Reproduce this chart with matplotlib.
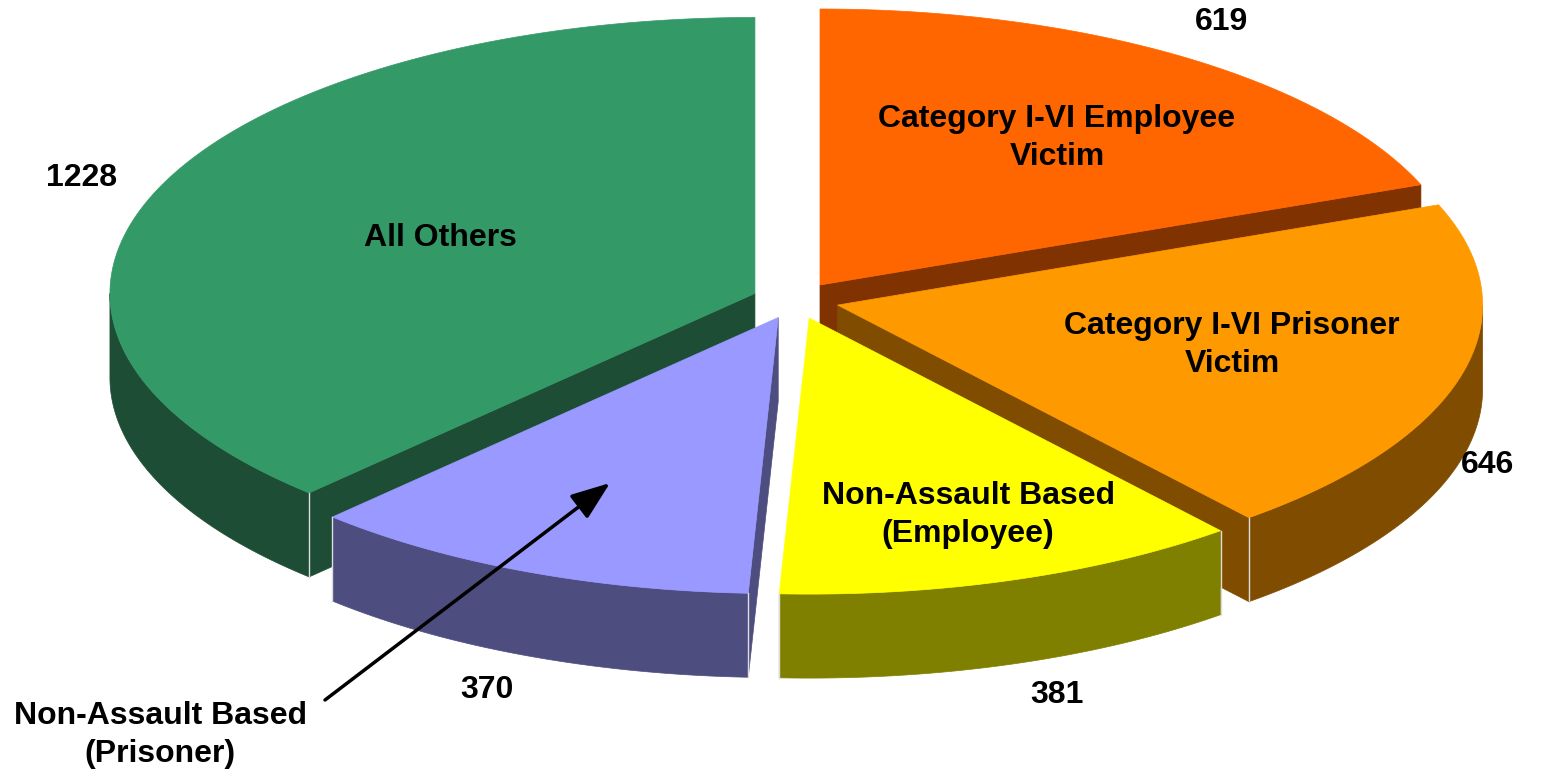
import numpy as np
import matplotlib
matplotlib.use('Agg')
from matplotlib import pyplot as plt
from matplotlib.patches import Polygon

# data, clockwise from 12 o'clock
categories = ['Category I-VI Employee\nVictim', 'Category I-VI Prisoner\nVictim',
              'Non-Assault Based\n(Employee)', 'Non-Assault Based\n(Prisoner)', 'All Others']
values = [619, 646, 381, 370, 1228]
top_colors = ['#FF6600', '#FF9900', '#FFFF00', '#9999FF', '#339966']
side_colors = ['#803300', '#804D00', '#808000', '#4D4D80', '#1E4D36']

# geometry of the projected pie (pixel units)
cx, cy = 795.4, 300.4
a, b = 645, 276
depth = 84
explode = 0.0676

plt.rcParams['font.family'] = ['Liberation Sans', 'DejaVu Sans']

fig = plt.figure(figsize=(15.51, 7.73), dpi=100)
ax = fig.add_axes([0, 0, 1, 1])
ax.set_xlim(0, 1551)
ax.set_ylim(773, 0)
ax.axis('off')


def pt(theta, r, ox, oy, z=0):
    t = np.radians(theta)
    return (cx + a * (r * np.cos(t) + ox), cy - b * (r * np.sin(t) + oy) + z)


def arc(t_from, t_to, ox, oy, z=0, n=120):
    return [pt(t, 1, ox, oy, z) for t in np.linspace(t_from, t_to, n)]


total = sum(values)
angles = [90.0]
for v in values:
    angles.append(angles[-1] - 360.0 * v / total)

slices = []
for i in range(len(values)):
    t1, t2 = angles[i], angles[i + 1]
    mid = np.radians((t1 + t2) / 2)
    slices.append((i, t1, t2, explode * np.cos(mid), explode * np.sin(mid), np.sin(mid)))

# back to front
slices.sort(key=lambda s: -s[5])

for i, t1, t2, ox, oy, _ in slices:
    side = side_colors[i]
    c0, cd = pt(0, 0, ox, oy), pt(0, 0, ox, oy, depth)
    corners = []
    # radial cut faces
    if np.cos(np.radians(t2)) > 0:
        p0, pd = pt(t2, 1, ox, oy), pt(t2, 1, ox, oy, depth)
        ax.add_patch(Polygon([c0, p0, pd, cd], closed=True, fc=side, ec=side, lw=0.5))
    if np.cos(np.radians(t1)) < 0:
        p0, pd = pt(t1, 1, ox, oy), pt(t1, 1, ox, oy, depth)
        ax.add_patch(Polygon([c0, p0, pd, cd], closed=True, fc=side, ec=side, lw=0.5))
    # outer wall, front half only
    for k in range(-2, 2):
        lo, hi = max(t2, k * 360 - 180), min(t1, k * 360)
        if hi > lo:
            top = arc(hi, lo, ox, oy)
            bot = arc(lo, hi, ox, oy, depth)
            ax.add_patch(Polygon(top + bot, closed=True, fc=side, ec=side, lw=0.5))
            for t in (lo, hi):
                if t in (t1, t2):
                    corners.append(t)
    for t in corners:
        p0, pd = pt(t, 1, ox, oy), pt(t, 1, ox, oy, depth)
        ax.plot([p0[0], pd[0]], [p0[1], pd[1]], color='#DDDDDD', lw=1)
    # top face
    ax.add_patch(Polygon([c0] + arc(t1, t2, ox, oy), closed=True,
                         fc=top_colors[i], ec=top_colors[i], lw=0.5))

fs = 23
ls = 1.33
# category labels on the slices
ax.text(1057, 138, categories[0], ha='center', va='center', fontsize=fs, fontweight='bold', linespacing=ls)
ax.text(1232, 345, categories[1], ha='center', va='center', fontsize=fs, fontweight='bold', linespacing=ls)
ax.text(968, 515, categories[2], ha='center', va='center', fontsize=fs, fontweight='bold', linespacing=ls)
ax.text(440, 238, categories[4], ha='center', va='center', fontsize=fs, fontweight='bold')
ax.text(160, 735, categories[3], ha='center', va='center', fontsize=fs, fontweight='bold', linespacing=ls)
ax.annotate('', xy=(610, 483), xytext=(325, 700),
            arrowprops=dict(arrowstyle='-|>,head_length=0.8,head_width=0.3', color='black', lw=2.5,
                            mutation_scale=30, shrinkA=0, shrinkB=0))

# value labels
value_pos = [(1222, 22), (1488, 465), (1057, 695), (487, 690), (82, 178)]
for v, (x, y) in zip(values, value_pos):
    ax.text(x, y, str(v), ha='center', va='center', fontsize=fs, fontweight='bold')

plt.savefig('out.png', dpi=100)
